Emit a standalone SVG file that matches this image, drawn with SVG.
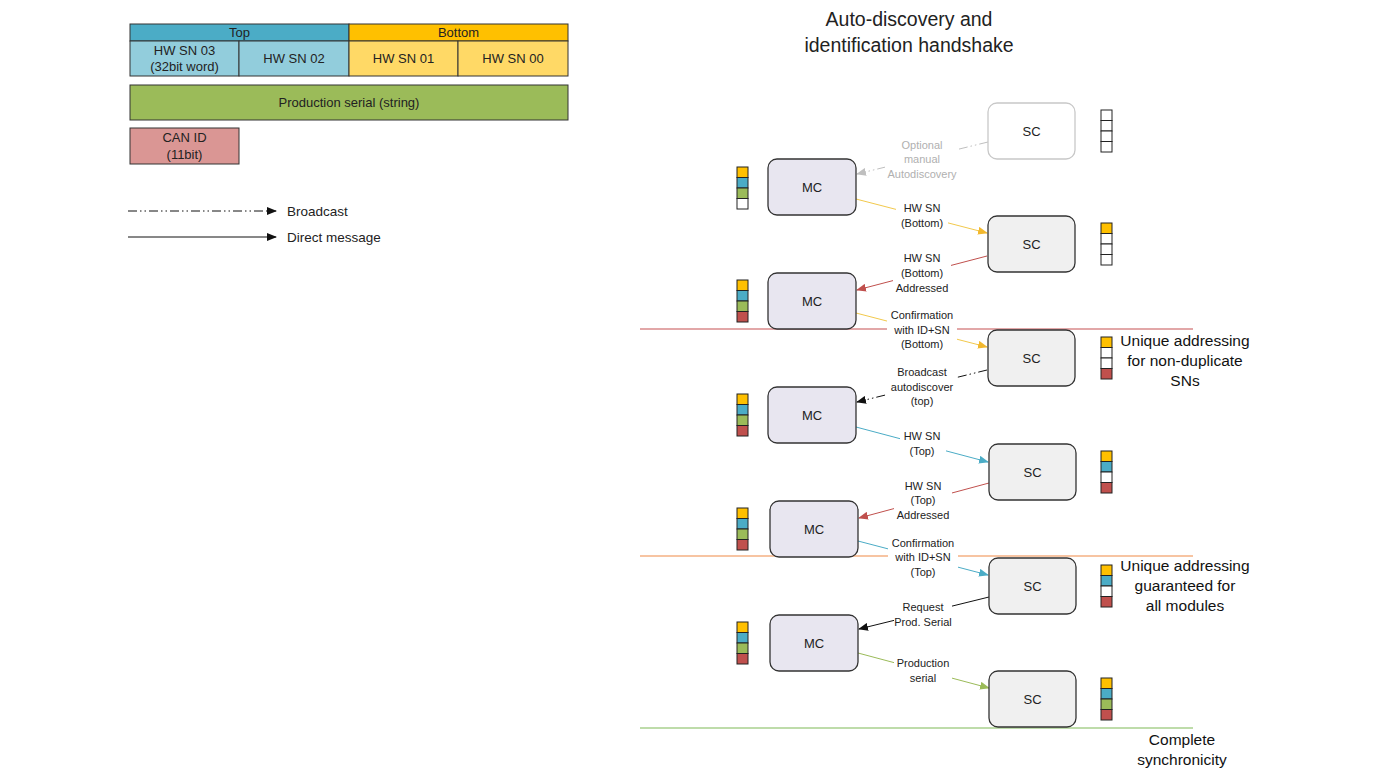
<svg xmlns="http://www.w3.org/2000/svg" width="1385" height="779" viewBox="0 0 1385 779">
<style>
text{font-family:"Liberation Sans",Arial,sans-serif;fill:#222}
.tb{font-size:13px;text-anchor:middle}
.lbl{font-size:11px;text-anchor:middle}
.node{stroke:#333;stroke-width:1.3}
.mc{fill:#E8E6F0}
.sc{fill:#F0F0F0}
.nt{font-size:13px;text-anchor:middle}
.note{font-size:15.5px;text-anchor:middle;fill:#111}
.sq{stroke:#222;stroke-width:1}
.o{fill:#FFC000}.b{fill:#4BACC6}.g{fill:#9BBB59}.r{fill:#C0504D}.w{fill:#fff}
.bg{fill:#fff}
.bc{stroke-dasharray:9 3 1.5 3 1.5 3}
</style>
<defs>
<marker id="aK" markerWidth="10" markerHeight="8" refX="9" refY="4" orient="auto" markerUnits="userSpaceOnUse"><path d="M0,0L10,4L0,8z" fill="#111"/></marker>
<marker id="aG" markerWidth="10" markerHeight="8" refX="9" refY="4" orient="auto" markerUnits="userSpaceOnUse"><path d="M0,0L10,4L0,8z" fill="#BFBFBF"/></marker>
<marker id="aY" markerWidth="10" markerHeight="8" refX="9" refY="4" orient="auto" markerUnits="userSpaceOnUse"><path d="M0,0L10,4L0,8z" fill="#F2B82E"/></marker>
<marker id="aR" markerWidth="10" markerHeight="8" refX="9" refY="4" orient="auto" markerUnits="userSpaceOnUse"><path d="M0,0L10,4L0,8z" fill="#C0504D"/></marker>
<marker id="aB" markerWidth="10" markerHeight="8" refX="9" refY="4" orient="auto" markerUnits="userSpaceOnUse"><path d="M0,0L10,4L0,8z" fill="#4BACC6"/></marker>
<marker id="aN" markerWidth="10" markerHeight="8" refX="9" refY="4" orient="auto" markerUnits="userSpaceOnUse"><path d="M0,0L10,4L0,8z" fill="#9BBB59"/></marker>
</defs>
<rect width="1385" height="779" fill="#fff"/>

<g id="legend-table">
<rect x="130" y="24" width="219" height="17" fill="#4BACC6" stroke="#333"/>
<rect x="349" y="24" width="219" height="17" fill="#FFC000" stroke="#333"/>
<text class="tb" x="239.5" y="37">Top</text>
<text class="tb" x="458.5" y="37">Bottom</text>
<rect x="130" y="41" width="109" height="35" fill="#92CDDC" stroke="#333"/>
<rect x="239" y="41" width="110" height="35" fill="#92CDDC" stroke="#333"/>
<rect x="349" y="41" width="109" height="35" fill="#FFD966" stroke="#333"/>
<rect x="458" y="41" width="110" height="35" fill="#FFD966" stroke="#333"/>
<text class="tb" x="184.5" y="55">HW SN 03</text>
<text class="tb" x="184.5" y="71">(32bit word)</text>
<text class="tb" x="294" y="63">HW SN 02</text>
<text class="tb" x="403.5" y="63">HW SN 01</text>
<text class="tb" x="513" y="63">HW SN 00</text>
<rect x="130" y="85" width="438" height="35" fill="#9BBB59" stroke="#333"/>
<text class="tb" x="349" y="107">Production serial (string)</text>
<rect x="130" y="128" width="109" height="36" fill="#DA9694" stroke="#333"/>
<text class="tb" x="184.5" y="142">CAN ID</text>
<text class="tb" x="184.5" y="159">(11bit)</text>
</g>

<g id="legend">
<line x1="128" y1="211" x2="276" y2="211" stroke="#111" class="bc" marker-end="url(#aK)"/>
<text x="287" y="216" font-size="13.5">Broadcast</text>
<line x1="128" y1="237" x2="276" y2="237" stroke="#111" marker-end="url(#aK)"/>
<text x="287" y="242" font-size="13.5">Direct message</text>
</g>

<g id="title">
<text x="909" y="26" font-size="19.5" text-anchor="middle" fill="#111">Auto-discovery and</text>
<text x="909" y="52" font-size="19.5" text-anchor="middle" fill="#111">identification handshake</text>
</g>

<g id="phase-lines">
<line x1="640" y1="329" x2="1193" y2="329" stroke="#D98A8B" stroke-width="1.5"/>
<line x1="640" y1="556" x2="1193" y2="556" stroke="#F4B183" stroke-width="1.5"/>
<line x1="640" y1="728" x2="1193" y2="728" stroke="#A9D18E" stroke-width="1.5"/>
</g>

<g id="connectors" fill="none">
<line x1="988" y1="142" x2="857" y2="174" stroke="#BFBFBF" class="bc" marker-end="url(#aG)"/>
<line x1="856" y1="199" x2="987" y2="233" stroke="#F2C94C" marker-end="url(#aY)"/>
<line x1="987" y1="256" x2="857" y2="290" stroke="#C0504D" marker-end="url(#aR)"/>
<line x1="856" y1="313" x2="987" y2="347" stroke="#F2C94C" marker-end="url(#aY)"/>
<line x1="987" y1="370" x2="857" y2="402" stroke="#111" class="bc" marker-end="url(#aK)"/>
<line x1="856" y1="427" x2="988" y2="462" stroke="#4BACC6" marker-end="url(#aB)"/>
<line x1="989" y1="483" x2="859" y2="518" stroke="#C0504D" marker-end="url(#aR)"/>
<line x1="858" y1="541" x2="988" y2="575" stroke="#4BACC6" marker-end="url(#aB)"/>
<line x1="989" y1="597" x2="859" y2="629" stroke="#111" marker-end="url(#aK)"/>
<line x1="858" y1="653" x2="989" y2="688" stroke="#9BBB59" marker-end="url(#aN)"/>
</g>

<g id="labels">
<rect class="bg" x="885" y="137" width="74" height="42"/>
<text class="lbl" x="922" y="149" style="fill:#B0B0B0">Optional</text>
<text class="lbl" x="922" y="163" style="fill:#B0B0B0">manual</text>
<text class="lbl" x="922" y="178" style="fill:#B0B0B0">Autodiscovery</text>

<rect class="bg" x="896" y="201" width="52" height="28"/>
<text class="lbl" x="922" y="212">HW SN</text>
<text class="lbl" x="922" y="227">(Bottom)</text>

<rect class="bg" x="893" y="251" width="58" height="43"/>
<text class="lbl" x="922" y="262">HW SN</text>
<text class="lbl" x="922" y="277">(Bottom)</text>
<text class="lbl" x="922" y="292">Addressed</text>

<rect class="bg" x="887" y="308" width="70" height="43"/>
<text class="lbl" x="922" y="319">Confirmation</text>
<text class="lbl" x="922" y="334">with ID+SN</text>
<text class="lbl" x="922" y="348">(Bottom)</text>

<rect class="bg" x="887" y="365" width="70" height="43"/>
<text class="lbl" x="922" y="376">Broadcast</text>
<text class="lbl" x="922" y="391">autodiscover</text>
<text class="lbl" x="922" y="405">(top)</text>

<rect class="bg" x="900" y="429" width="46" height="28"/>
<text class="lbl" x="922" y="440">HW SN</text>
<text class="lbl" x="922" y="455">(Top)</text>

<rect class="bg" x="894" y="479" width="58" height="42"/>
<text class="lbl" x="923" y="490">HW SN</text>
<text class="lbl" x="923" y="504">(Top)</text>
<text class="lbl" x="923" y="519">Addressed</text>

<rect class="bg" x="888" y="536" width="70" height="42"/>
<text class="lbl" x="923" y="547">Confirmation</text>
<text class="lbl" x="923" y="561">with ID+SN</text>
<text class="lbl" x="923" y="576">(Top)</text>

<rect class="bg" x="894" y="600" width="58" height="28"/>
<text class="lbl" x="923" y="611">Request</text>
<text class="lbl" x="923" y="626">Prod. Serial</text>

<rect class="bg" x="894" y="656" width="58" height="28"/>
<text class="lbl" x="923" y="667">Production</text>
<text class="lbl" x="923" y="682">serial</text>
</g>

<g id="sc1">
<rect x="988" y="103" width="87" height="56" rx="9" fill="#fff" stroke="#C8C8C8" stroke-width="1.3"/>
<text class="nt" x="1031.5" y="136">SC</text>
<rect class="sq w" x="1101" y="110" width="11" height="10.5"/><rect class="sq w" x="1101" y="120.5" width="11" height="10.5"/><rect class="sq w" x="1101" y="131" width="11" height="10.5"/><rect class="sq w" x="1101" y="141.5" width="11" height="10.5"/>
</g>
<g id="mc1">
<rect class="node mc" x="768" y="159" width="88" height="56" rx="9"/>
<text class="nt" x="812" y="192">MC</text>
<rect class="sq o" x="737" y="167" width="11" height="10.5"/><rect class="sq b" x="737" y="177.5" width="11" height="10.5"/><rect class="sq g" x="737" y="188" width="11" height="10.5"/><rect class="sq w" x="737" y="198.5" width="11" height="10.5"/>
</g>
<g id="sc2">
<rect class="node sc" x="988" y="216" width="87" height="56" rx="9"/>
<text class="nt" x="1031.5" y="249">SC</text>
<rect class="sq o" x="1101" y="223" width="11" height="10.5"/><rect class="sq w" x="1101" y="233.5" width="11" height="10.5"/><rect class="sq w" x="1101" y="244" width="11" height="10.5"/><rect class="sq w" x="1101" y="254.5" width="11" height="10.5"/>
</g>
<g id="mc2">
<rect class="node mc" x="768" y="273" width="88" height="56" rx="9"/>
<text class="nt" x="812" y="306">MC</text>
<rect class="sq o" x="737" y="280" width="11" height="10.5"/><rect class="sq b" x="737" y="290.5" width="11" height="10.5"/><rect class="sq g" x="737" y="301" width="11" height="10.5"/><rect class="sq r" x="737" y="311.5" width="11" height="10.5"/>
</g>
<g id="sc3">
<rect class="node sc" x="988" y="330" width="87" height="56" rx="9"/>
<text class="nt" x="1031.5" y="363">SC</text>
<rect class="sq o" x="1101" y="337" width="11" height="10.5"/><rect class="sq w" x="1101" y="347.5" width="11" height="10.5"/><rect class="sq w" x="1101" y="358" width="11" height="10.5"/><rect class="sq r" x="1101" y="368.5" width="11" height="10.5"/>
</g>
<g id="mc3">
<rect class="node mc" x="768" y="387" width="88" height="56" rx="9"/>
<text class="nt" x="812" y="420">MC</text>
<rect class="sq o" x="737" y="394" width="11" height="10.5"/><rect class="sq b" x="737" y="404.5" width="11" height="10.5"/><rect class="sq g" x="737" y="415" width="11" height="10.5"/><rect class="sq r" x="737" y="425.5" width="11" height="10.5"/>
</g>
<g id="sc4">
<rect class="node sc" x="989" y="444" width="87" height="56" rx="9"/>
<text class="nt" x="1032.5" y="477">SC</text>
<rect class="sq o" x="1101" y="451" width="11" height="10.5"/><rect class="sq b" x="1101" y="461.5" width="11" height="10.5"/><rect class="sq w" x="1101" y="472" width="11" height="10.5"/><rect class="sq r" x="1101" y="482.5" width="11" height="10.5"/>
</g>
<g id="mc4">
<rect class="node mc" x="770" y="501" width="88" height="56" rx="9"/>
<text class="nt" x="814" y="534">MC</text>
<rect class="sq o" x="737" y="508" width="11" height="10.5"/><rect class="sq b" x="737" y="518.5" width="11" height="10.5"/><rect class="sq g" x="737" y="529" width="11" height="10.5"/><rect class="sq r" x="737" y="539.5" width="11" height="10.5"/>
</g>
<g id="sc5">
<rect class="node sc" x="989" y="558" width="87" height="56" rx="9"/>
<text class="nt" x="1032.5" y="591">SC</text>
<rect class="sq o" x="1101" y="565" width="11" height="10.5"/><rect class="sq b" x="1101" y="575.5" width="11" height="10.5"/><rect class="sq w" x="1101" y="586" width="11" height="10.5"/><rect class="sq r" x="1101" y="596.5" width="11" height="10.5"/>
</g>
<g id="mc5">
<rect class="node mc" x="770" y="615" width="88" height="56" rx="9"/>
<text class="nt" x="814" y="648">MC</text>
<rect class="sq o" x="737" y="622" width="11" height="10.5"/><rect class="sq b" x="737" y="632.5" width="11" height="10.5"/><rect class="sq g" x="737" y="643" width="11" height="10.5"/><rect class="sq r" x="737" y="653.5" width="11" height="10.5"/>
</g>
<g id="sc6">
<rect class="node sc" x="989" y="671" width="87" height="56" rx="9"/>
<text class="nt" x="1032.5" y="704">SC</text>
<rect class="sq o" x="1101" y="678" width="11" height="10.5"/><rect class="sq b" x="1101" y="688.5" width="11" height="10.5"/><rect class="sq g" x="1101" y="699" width="11" height="10.5"/><rect class="sq r" x="1101" y="709.5" width="11" height="10.5"/>
</g>

<g id="notes">
<text class="note" x="1185" y="346">Unique addressing</text>
<text class="note" x="1185" y="366">for non-duplicate</text>
<text class="note" x="1185" y="386">SNs</text>
<text class="note" x="1185" y="571">Unique addressing</text>
<text class="note" x="1185" y="591">guaranteed for</text>
<text class="note" x="1185" y="611">all modules</text>
<text class="note" x="1182" y="745">Complete</text>
<text class="note" x="1182" y="765">synchronicity</text>
</g>
</svg>
